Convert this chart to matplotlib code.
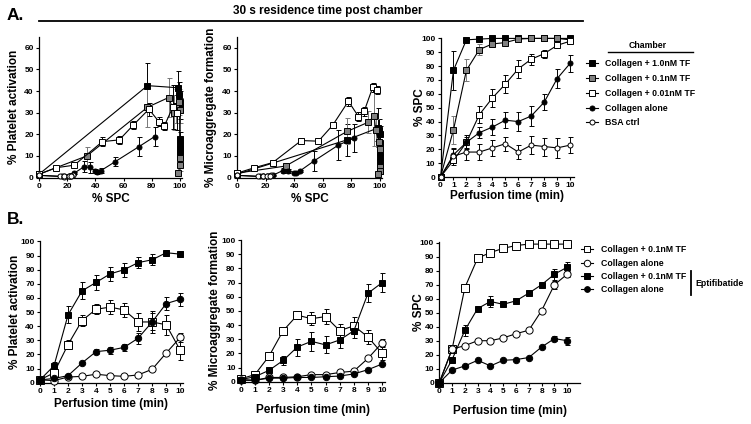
import numpy as np
import matplotlib
matplotlib.use('Agg')
import matplotlib.pyplot as plt
from matplotlib.lines import Line2D

plt.rcParams['font.family'] = ['Liberation Sans', 'DejaVu Sans']
plt.rcParams['font.weight'] = 'bold'
plt.rcParams['axes.labelweight'] = 'bold'

# ---------------- data: panel A (30 s residence time) ----------------
t = np.arange(0, 11)

# % SPC vs perfusion time
spc_tf10 = [0, 77, 99, 99.5, 100, 100, 100, 100, 100, 100, 100]
spc_tf01 = [0, 34, 77, 92, 96, 97, 99.5, 100, 100, 100, 99]
spc_tf001 = [0, 12, 25, 45, 57, 67, 78, 85, 89, 95, 98]
spc_col = [0, 16, 25, 32, 36, 41, 40, 44, 54, 71, 82]
spc_bsa = [0, 15, 18, 18, 21, 24, 18, 23, 22, 21, 23]
spc_tf10_e = [0, 14, 1, 1, 0.5, 0.5, 0, 0, 0, 0, 0]
spc_tf01_e = [0, 10, 8, 4, 2, 1.5, 1, 0.5, 0.5, 0.5, 1]
spc_tf001_e = [0, 3, 5, 6, 6.5, 6.5, 6.5, 4, 3, 1.5, 1.5]
spc_col_e = [0, 5, 4, 4, 6, 6, 7, 7, 6, 7, 6]
spc_bsa_e = [0, 5, 6, 6, 6, 5, 5, 6.5, 6.5, 7, 6]

# % platelet activation (plotted against % SPC)
act_tf10 = [1.5, 42.5, 41.5, 38, 35, 32, 18, 15, 13, 12, 11]
act_tf01 = [1.5, 10, 32.5, 37, 30, 33, 35, 31, 9, 6, 2]
act_tf001 = [1.5, 4.5, 5.7, 16.6, 17.4, 24.3, 31.6, 25.9, 23.9, 32.6, 30]
act_col = [1, 0.5, 2, 5, 4.7, 2.7, 3, 3.2, 7.3, 14.3, 18.9]
act_bsa = [1, 0.5, 0.5, 0.3, 0.5, 1, 0.5, 0.5, 0.5, 0.5, 0.8]
act_tf10_e = [0, 10.5, 8, 6, 5, 5, 3, 3, 3, 2, 2]
act_tf01_e = [0, 4.3, 9, 9, 8, 8, 6, 6, 3, 3, 1]
act_tf001_e = [0, 0.5, 1, 2, 2, 2, 3, 2, 2, 10, 8]
act_col_e = [0, 0.5, 0.5, 2.5, 2.5, 1, 1, 1, 2, 4.5, 4.5]
act_bsa_e = [0, 0, 0, 0, 0, 0, 0, 0, 0, 0, 0]

# % microaggregate formation (plotted against % SPC)
mic_tf10 = [1.5, 17.4, 23, 22, 20, 16, 12, 9.4, 7, 5, 3]
mic_tf01 = [2, 5.3, 21.3, 25.6, 28.5, 22, 16.4, 13.3, 4.8, 3, 1.8]
mic_tf001 = [2, 4.5, 6.9, 17.1, 16.8, 24.2, 35.3, 28.2, 30.6, 41.7, 40.4]
mic_col = [1, 0.5, 1, 3.2, 3, 2.2, 2, 3, 7.7, 15, 18.2]
mic_bsa = [1, 0.5, 0.5, 0.5, 0.5, 1, 0.5, 0.5, 0.5, 0.5, 0.5]
mic_tf10_e = [0, 7.5, 9, 5, 4, 3, 3, 3, 2, 2, 1]
mic_tf01_e = [0, 1, 6, 5, 14, 5, 4, 3, 2, 1, 1]
mic_tf001_e = [0, 0.5, 0.5, 1, 1, 1, 2, 2, 2, 2, 2]
mic_col_e = [0, 0.3, 0.3, 1, 1, 0.5, 0.5, 0.5, 4.6, 7, 6.5]
mic_bsa_e = [0, 0, 0, 0, 0, 0, 0, 0, 0, 0, 0]

# ---------------- data: panel B (with / without eptifibatide) ----------------
b_act_tf = [2, 7, 27, 44, 52, 53.5, 51.5, 43, 43, 41, 23]
b_act_col = [2, 1.5, 4, 4.5, 6, 5, 4.5, 5.5, 9.5, 21, 32]
b_act_tfE = [2, 12, 48, 65, 71, 77, 80, 85, 87, 92, 91]
b_act_colE = [2, 3, 5, 14, 22, 23, 25, 31.5, 43, 56, 59]
b_act_tf_e = [0, 3, 3, 4, 3.5, 5, 5, 6.5, 6, 7, 7]
b_act_col_e = [0, 0, 0, 0, 0, 0, 0, 0, 0, 0, 3]
b_act_tfE_e = [0, 3, 6, 6, 5.5, 5, 5, 4, 4, 2, 2]
b_act_colE_e = [0, 0, 0, 0, 2, 2.5, 2.5, 4, 8, 4.5, 4.5]

b_mic_tf = [2, 5, 18, 36, 47, 44.5, 46, 36, 39.5, 31.5, 20]
b_mic_col = [1.5, 1, 3, 3, 3.5, 5, 5, 6.5, 7.5, 16.5, 27.5]
b_mic_tfE = [1.5, 3.5, 8, 15, 24.5, 28.5, 26, 29.5, 36, 62.5, 70]
b_mic_colE = [1, 1, 2.5, 2.5, 3, 3, 3.5, 4, 5.5, 8.5, 12.5]
b_mic_tf_e = [0, 0, 0, 0, 3, 4.5, 5, 5, 6, 5, 5]
b_mic_col_e = [0, 0, 0, 0, 0, 0, 0, 0, 0, 0, 3]
b_mic_tfE_e = [0, 0, 0, 3, 6, 6.5, 6, 5.5, 5, 6.5, 6.5]
b_mic_colE_e = [0, 0, 0, 0, 0, 0, 0, 0, 0, 0, 0]

b_spc_tf = [0, 24, 68, 89, 93, 96, 98, 99, 99, 99, 99]
b_spc_col = [0, 24, 26.5, 30, 30, 32, 35, 37.5, 51.5, 70, 77.5]
b_spc_tfE = [0, 16.5, 37.5, 53, 58, 56, 58.5, 64, 70, 77.5, 82.5]
b_spc_colE = [0, 9, 12, 16, 12, 16, 16.5, 18, 25.5, 31.5, 30]
b_spc_tf_e = [0, 0, 0, 0, 0, 0, 0, 0, 0, 0, 0]
b_spc_col_e = [0, 0, 0, 0, 0, 0, 0, 0, 0, 3, 2]
b_spc_tfE_e = [0, 0, 4, 2, 4, 0, 0, 0, 0, 4, 4]
b_spc_colE_e = [0, 0, 0, 0, 0, 0, 0, 0, 0, 2, 3]

labels_A = ['Collagen + 1.0nM TF', 'Collagen + 0.1nM TF', 'Collagen + 0.01nM TF',
            'Collagen alone', 'BSA ctrl']
labels_B = ['Collagen + 0.1nM TF', 'Collagen alone', 'Collagen + 0.1nM TF', 'Collagen alone']

# marker styles (marker, face, error bar colour, size)
st_tf10 = ('s', 'black', 'black', 4.2)
st_tf01 = ('s', '#808080', '#777777', 4.2)
st_tf001 = ('s', 'white', 'black', 4.2)
st_col = ('o', 'black', 'black', 3.6)
st_bsa = ('o', 'white', 'black', 3.6)
st_bsq_open = ('s', 'white', 'black', 5.2)
st_bci_open = ('o', 'white', 'black', 5.2)
st_bsq_fill = ('s', 'black', 'black', 5.0)
st_bci_fill = ('o', 'black', 'black', 4.6)

W, H = 751, 424
fig = plt.figure(figsize=(W / 100, H / 100), dpi=100)


def px_axes(left, top, right, bottom):
    return fig.add_axes([left / W, 1 - bottom / H, (right - left) / W, (bottom - top) / H])


def series(ax, x, y, e, st):
    m, fc, ec, ms = st
    x = np.asarray(x, float); y = np.asarray(y, float); e = np.asarray(e, float)
    k = e > 0
    if k.any():
        ax.errorbar(x[k], y[k], yerr=e[k], fmt='none', ecolor=ec, elinewidth=0.7,
                    capsize=1.8, capthick=0.7, zorder=2, clip_on=False)
    ax.plot(x, y, '-', color='black', lw=0.8, marker=m, ms=ms, mfc=fc, mec='black',
            mew=0.7, zorder=3, clip_on=False)


def style(ax, xlim, ylim, xticks, yticks, xlabel, ylabel, xl, yl):
    ax.set_xlim(*xlim)
    ax.set_ylim(*ylim)
    ax.set_xticks(xticks)
    ax.set_yticks(yticks)
    for s in ['top', 'right']:
        ax.spines[s].set_visible(False)
    for s in ['left', 'bottom']:
        ax.spines[s].set_linewidth(0.9)
    ax.tick_params(direction='out', length=2.5, width=0.8, pad=1.2, labelsize=6)
    ax.set_xlabel(xlabel, fontsize=8.5)
    ax.set_ylabel(ylabel, fontsize=8.5)
    ax.xaxis.set_label_coords(0.5, xl)
    ax.yaxis.set_label_coords(yl, 0.5)


# ---------------- Panel A ----------------
a1 = px_axes(39, 37, 182, 177.5)
series(a1, spc_tf10, act_tf10, act_tf10_e, st_tf10)
series(a1, spc_tf01, act_tf01, act_tf01_e, st_tf01)
series(a1, spc_tf001, act_tf001, act_tf001_e, st_tf001)
series(a1, spc_col, act_col, act_col_e, st_col)
series(a1, spc_bsa, act_bsa, act_bsa_e, st_bsa)
style(a1, (0, 101.5), (0, 65), range(0, 101, 20), range(0, 61, 10),
      '% SPC', '% Platelet activation', -0.11, -0.13)

a2 = px_axes(237, 37, 382, 177.5)
series(a2, spc_tf10, mic_tf10, mic_tf10_e, st_tf10)
series(a2, spc_tf01, mic_tf01, mic_tf01_e, st_tf01)
series(a2, spc_tf001, mic_tf001, mic_tf001_e, st_tf001)
series(a2, spc_col, mic_col, mic_col_e, st_col)
series(a2, spc_bsa, mic_bsa, mic_bsa_e, st_bsa)
style(a2, (0, 101.5), (0, 65), range(0, 101, 20), range(0, 61, 10),
      '% SPC', '% Microaggregate formation', -0.11, -0.138)

a3 = px_axes(440.5, 38, 574, 177)
series(a3, t, spc_tf10, spc_tf10_e, st_tf10)
series(a3, t, spc_tf01, spc_tf01_e, st_tf01)
series(a3, t, spc_tf001, spc_tf001_e, st_tf001)
series(a3, t, spc_col, spc_col_e, st_col)
series(a3, t, spc_bsa, spc_bsa_e, st_bsa)
style(a3, (0, 10.3), (0, 100.3), range(0, 11), range(0, 101, 10),
      'Perfusion time (min)', '% SPC', -0.09, -0.105)

handles_A = []
for st in [st_tf10, st_tf01, st_tf001, st_col, st_bsa]:
    m, fc, ec, ms = st
    handles_A.append(Line2D([], [], color='black', lw=0.8, marker=m, ms=ms, mfc=fc,
                            mec='black', mew=0.7))
fig.legend(handles_A, labels_A, loc='upper left', bbox_to_anchor=(586 / W, 1 - 59.5 / H),
           frameon=False, fontsize=6.3, handlelength=1.4, handletextpad=0.8,
           labelspacing=0.65, borderpad=0, borderaxespad=0)
fig.text(648 / W, 1 - 46 / H, 'Chamber', ha='center', va='center', fontsize=6.3)
fig.add_artist(Line2D([608 / W, 693 / W], [1 - 52 / H, 1 - 52 / H], color='black', lw=1.0))

# title of panel A
fig.text(7 / W, 1 - 16 / H, 'A.', ha='left', va='center', fontsize=12.5)
fig.text(328 / W, 1 - 11 / H, '30 s residence time post chamber', ha='center', va='center',
         fontsize=8.5)
fig.add_artist(Line2D([39 / W, 583 / W], [1 - 20.5 / H, 1 - 20.5 / H], color='black', lw=1.3))

# ---------------- Panel B ----------------
fig.text(7 / W, 1 - 219 / H, 'B.', ha='left', va='center', fontsize=12.5)

b1 = px_axes(40, 241, 183, 382.7)
series(b1, t, b_act_tf, b_act_tf_e, st_bsq_open)
series(b1, t, b_act_col, b_act_col_e, st_bci_open)
series(b1, t, b_act_tfE, b_act_tfE_e, st_bsq_fill)
series(b1, t, b_act_colE, b_act_colE_e, st_bci_fill)
style(b1, (0, 10.2), (0, 100.3), range(0, 11), range(0, 101, 10),
      'Perfusion time (min)', '% Platelet activation', -0.108, -0.136)

b2 = px_axes(240.7, 239.7, 385, 381.7)
series(b2, t, b_mic_tf, b_mic_tf_e, st_bsq_open)
series(b2, t, b_mic_col, b_mic_col_e, st_bci_open)
series(b2, t, b_mic_tfE, b_mic_tfE_e, st_bsq_fill)
series(b2, t, b_mic_colE, b_mic_colE_e, st_bci_fill)
style(b2, (0, 10.2), (0, 100.3), range(0, 11), range(0, 101, 10),
      'Perfusion time (min)', '% Microaggregate formation', -0.157, -0.137)

b3 = px_axes(439.3, 242.3, 580, 382.7)
series(b3, t, b_spc_tf, b_spc_tf_e, st_bsq_open)
series(b3, t, b_spc_col, b_spc_col_e, st_bci_open)
series(b3, t, b_spc_tfE, b_spc_tfE_e, st_bsq_fill)
series(b3, t, b_spc_colE, b_spc_colE_e, st_bci_fill)
style(b3, (0, 11), (0, 100.3), range(0, 11), range(0, 101, 10),
      'Perfusion time (min)', '% SPC', -0.159, -0.1)

handles_B = []
for st in [st_bsq_open, st_bci_open, st_bsq_fill, st_bci_fill]:
    m, fc, ec, ms = st
    handles_B.append(Line2D([], [], color='black', lw=0.8, marker=m, ms=ms * 0.9, mfc=fc,
                            mec='black', mew=0.7))
fig.legend(handles_B, labels_B, loc='upper left', bbox_to_anchor=(581 / W, 1 - 245.5 / H),
           frameon=False, fontsize=6.3, handlelength=1.4, handletextpad=0.9,
           labelspacing=0.48, borderpad=0, borderaxespad=0)
fig.add_artist(Line2D([691 / W, 691 / W], [1 - 271 / H, 1 - 295 / H], color='black', lw=1.3))
fig.text(695 / W, 1 - 283.5 / H, 'Eptifibatide', ha='left', va='center', fontsize=6.3)

fig.savefig('out.png', dpi=100)
